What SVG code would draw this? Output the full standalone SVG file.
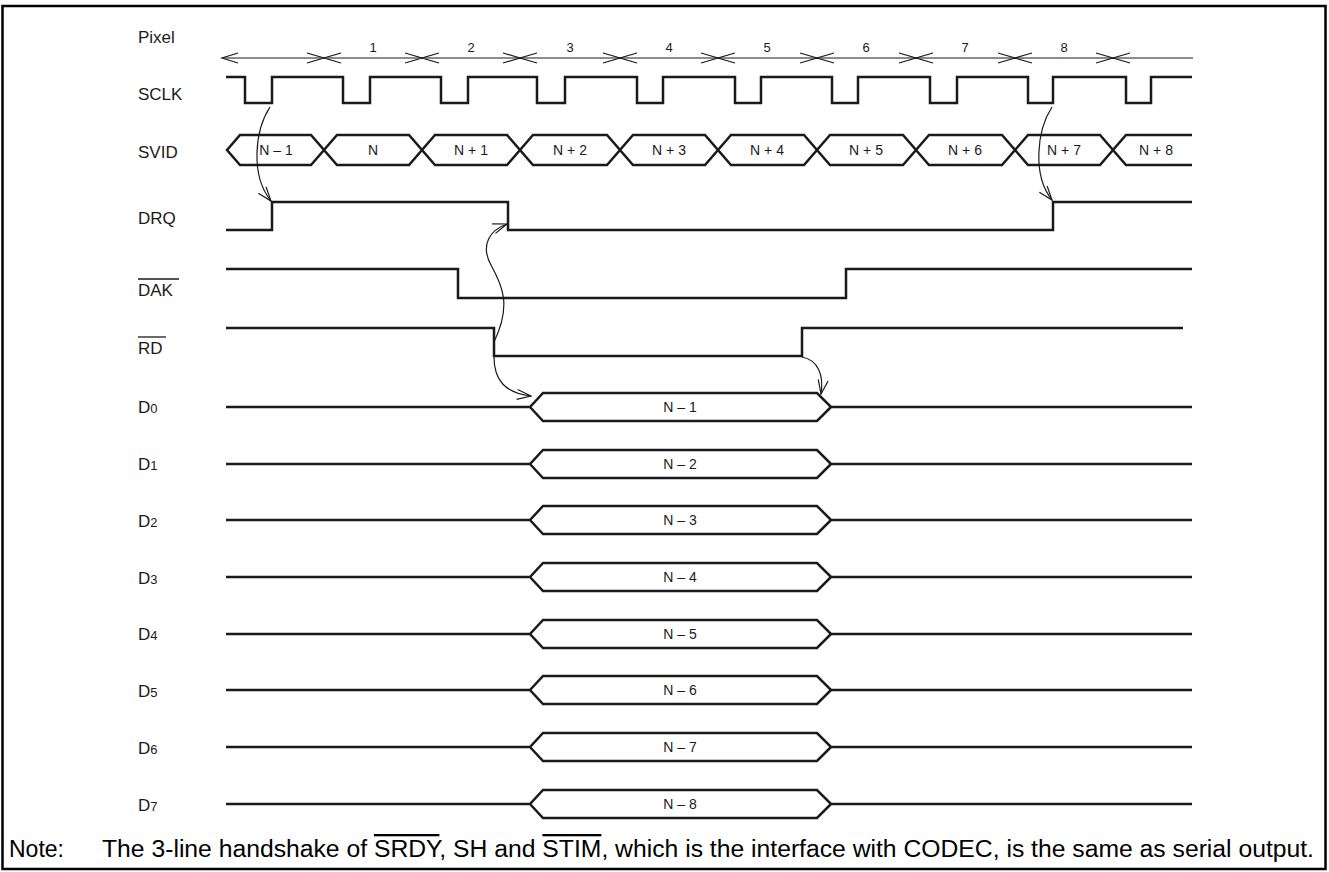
<svg xmlns="http://www.w3.org/2000/svg" width="1329" height="872" viewBox="0 0 1329 872">
<style>
  .sig { fill: none; stroke: #1a1a1a; stroke-width: 2.5; stroke-linejoin: miter; }
  .thin { fill: none; stroke: #1a1a1a; stroke-width: 1.2; }
  .lbl { font-family: "Liberation Sans", Arial, sans-serif; font-size: 17px; fill: #1a1a1a; }
  .sub { font-size: 13px; }
  .val { font-family: "Liberation Sans", Arial, sans-serif; font-size: 14px; fill: #1a1a1a; text-anchor: middle; }
  .num { font-family: "Liberation Sans", Arial, sans-serif; font-size: 13px; fill: #1a1a1a; text-anchor: middle; }
  .note { font-family: "Liberation Sans", Arial, sans-serif; font-size: 23px; fill: #000; }
  .ov { stroke: #1a1a1a; stroke-width: 1.3; }
</style>
<defs>
  <marker id="arr" viewBox="0 0 16 12" refX="15" refY="6" markerWidth="16" markerHeight="12" markerUnits="userSpaceOnUse" orient="auto">
    <path d="M1,1 L15,6 L1,11" fill="none" stroke="#1a1a1a" stroke-width="1.2"/>
  </marker>
</defs>
<rect x="2.5" y="6" width="1323" height="863" fill="#fff" stroke="#000" stroke-width="2.5"/>

<g id="pixel">
  <text class="lbl" x="138" y="43">Pixel</text>
  <line class="thin" x1="222" y1="58" x2="1193" y2="58"/>
  <path class="thin" d="M238,53 L222,58 L238,63"/>
  <path class="thin" d="M307,53 L324,58 L307,63 M341,53 L324,58 L341,63
    M405,53 L422,58 L405,63 M439,53 L422,58 L439,63
    M503,53 L520,58 L503,63 M537,53 L520,58 L537,63
    M603,53 L620,58 L603,63 M637,53 L620,58 L637,63
    M701,53 L718,58 L701,63 M735,53 L718,58 L735,63
    M800,53 L817,58 L800,63 M834,53 L817,58 L834,63
    M899,53 L916,58 L899,63 M933,53 L916,58 L933,63
    M998,53 L1015,58 L998,63 M1032,53 L1015,58 L1032,63
    M1096,53 L1113,58 L1096,63 M1130,53 L1113,58 L1130,63"/>
  <text class="num" x="373" y="52">1</text>
  <text class="num" x="471" y="52">2</text>
  <text class="num" x="570" y="52">3</text>
  <text class="num" x="669" y="52">4</text>
  <text class="num" x="767" y="52">5</text>
  <text class="num" x="866" y="52">6</text>
  <text class="num" x="965" y="52">7</text>
  <text class="num" x="1064" y="52">8</text>
</g>

<g id="sclk">
  <text class="lbl" x="138" y="100">SCLK</text>
  <path class="sig" d="M226,77 L245,77 L245,103 L272,103 L272,77 L343,77 L343,103 L370,103 L370,77 L441,77 L441,103 L468,103 L468,77 L537,77 L537,103 L565,103 L565,77 L637,77 L637,103 L663,103 L663,77 L735,77 L735,103 L761,103 L761,77 L832,77 L832,103 L858,103 L858,77 L930,77 L930,103 L957,103 L957,77 L1028,77 L1028,103 L1053,103 L1053,77 L1126,77 L1126,103 L1151,103 L1151,77 L1192,77"/>
</g>

<g id="svid">
  <text class="lbl" x="138" y="158">SVID</text>
  <path class="sig" d="M227,150 L240,135 L311,135 L324,150 L311,165 L240,165 Z"/>
  <path class="sig" d="M324,150 L337,135 L409,135 L422,150 L409,165 L337,165 Z"/>
  <path class="sig" d="M422,150 L435,135 L507,135 L520,150 L507,165 L435,165 Z"/>
  <path class="sig" d="M520,150 L533,135 L607,135 L620,150 L607,165 L533,165 Z"/>
  <path class="sig" d="M620,150 L633,135 L705,135 L718,150 L705,165 L633,165 Z"/>
  <path class="sig" d="M718,150 L731,135 L804,135 L817,150 L804,165 L731,165 Z"/>
  <path class="sig" d="M817,150 L830,135 L903,135 L916,150 L903,165 L830,165 Z"/>
  <path class="sig" d="M916,150 L929,135 L1002,135 L1015,150 L1002,165 L929,165 Z"/>
  <path class="sig" d="M1015,150 L1028,135 L1100,135 L1113,150 L1100,165 L1028,165 Z"/>
  <path class="sig" d="M1192,135 L1126,135 L1113,150 L1126,165 L1192,165"/>
  <text class="val" x="276" y="155">N – 1</text>
  <text class="val" x="373" y="155">N</text>
  <text class="val" x="471" y="155">N + 1</text>
  <text class="val" x="570" y="155">N + 2</text>
  <text class="val" x="669" y="155">N + 3</text>
  <text class="val" x="767" y="155">N + 4</text>
  <text class="val" x="866" y="155">N + 5</text>
  <text class="val" x="965" y="155">N + 6</text>
  <text class="val" x="1064" y="155">N + 7</text>
  <text class="val" x="1156" y="155">N + 8</text>
</g>

<g id="drq">
  <text class="lbl" x="138" y="224">DRQ</text>
  <path class="sig" d="M226,230 L272,230 L272,202 L508,202 L508,230 L1053,230 L1053,202 L1192,202"/>
</g>

<g id="dak">
  <text class="lbl" x="138" y="296">DAK</text>
  <line class="ov" x1="138" y1="279" x2="179" y2="279"/>
  <path class="sig" d="M226,269 L458,269 L458,298 L846,298 L846,269 L1192,269"/>
</g>

<g id="rd">
  <text class="lbl" x="138" y="354">RD</text>
  <line class="ov" x1="138" y1="337" x2="166" y2="337"/>
  <path class="sig" d="M226,328 L494,328 L494,356 L802,356 L802,328 L1183,328"/>
</g>

<g id="d0">
  <text class="lbl" x="138" y="413">D<tspan class="sub">0</tspan></text>
  <path class="sig" d="M226,407 L530,407 L543,393 L817,393 L831,407 L1192,407 M530,407 L543,421 L817,421 L831,407"/>
  <text class="val" x="680" y="412">N – 1</text>
</g>
<g id="d1">
  <text class="lbl" x="138" y="470">D<tspan class="sub">1</tspan></text>
  <path class="sig" d="M226,464 L530,464 L543,450 L817,450 L831,464 L1192,464 M530,464 L543,478 L817,478 L831,464"/>
  <text class="val" x="680" y="469">N – 2</text>
</g>
<g id="d2">
  <text class="lbl" x="138" y="527">D<tspan class="sub">2</tspan></text>
  <path class="sig" d="M226,520 L530,520 L543,506 L817,506 L831,520 L1192,520 M530,520 L543,534 L817,534 L831,520"/>
  <text class="val" x="680" y="525">N – 3</text>
</g>
<g id="d3">
  <text class="lbl" x="138" y="584">D<tspan class="sub">3</tspan></text>
  <path class="sig" d="M226,577 L530,577 L543,563 L817,563 L831,577 L1192,577 M530,577 L543,591 L817,591 L831,577"/>
  <text class="val" x="680" y="582">N – 4</text>
</g>
<g id="d4">
  <text class="lbl" x="138" y="640">D<tspan class="sub">4</tspan></text>
  <path class="sig" d="M226,634 L530,634 L543,620 L817,620 L831,634 L1192,634 M530,634 L543,648 L817,648 L831,634"/>
  <text class="val" x="680" y="639">N – 5</text>
</g>
<g id="d5">
  <text class="lbl" x="138" y="697">D<tspan class="sub">5</tspan></text>
  <path class="sig" d="M226,690 L530,690 L543,676 L817,676 L831,690 L1192,690 M530,690 L543,704 L817,704 L831,690"/>
  <text class="val" x="680" y="695">N – 6</text>
</g>
<g id="d6">
  <text class="lbl" x="138" y="754">D<tspan class="sub">6</tspan></text>
  <path class="sig" d="M226,747 L530,747 L543,733 L817,733 L831,747 L1192,747 M530,747 L543,761 L817,761 L831,747"/>
  <text class="val" x="680" y="752">N – 7</text>
</g>
<g id="d7">
  <text class="lbl" x="138" y="811">D<tspan class="sub">7</tspan></text>
  <path class="sig" d="M226,804 L530,804 L543,790 L817,790 L831,804 L1192,804 M530,804 L543,818 L817,818 L831,804"/>
  <text class="val" x="680" y="809">N – 8</text>
</g>

<g id="connectors">
  <path class="thin" marker-end="url(#arr)" d="M270,107 C255,130 250,175 271,201"/>
  <path class="thin" marker-end="url(#arr)" d="M1052,107 C1037,130 1032,175 1052,200"/>
  <path class="thin" marker-end="url(#arr)" d="M494,342 C512,305 502,285 491,265 C480,245 490,230 507,224"/>
  <path class="thin" marker-end="url(#arr)" d="M494,357 C494,380 505,393 531,396"/>
  <path class="thin" marker-end="url(#arr)" d="M802,357 C818,360 824,375 821,394"/>
</g>

<g id="note">
  <text class="note" x="9" y="857">Note:</text>
  <text class="note" x="102" y="857" textLength="1212" lengthAdjust="spacingAndGlyphs">The 3-line handshake of <tspan text-decoration="overline">SRDY</tspan>, SH and <tspan text-decoration="overline">STIM</tspan>, which is the interface with CODEC, is the same as serial output.</text>
</g>
</svg>
